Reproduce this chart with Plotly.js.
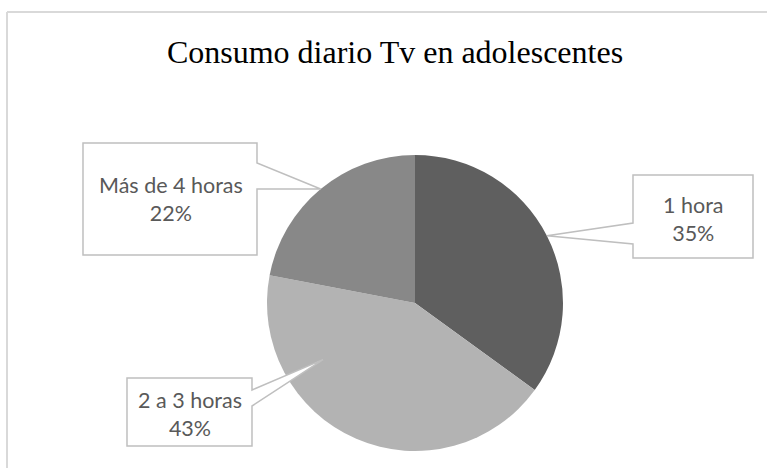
<!DOCTYPE html>
<html>
<head>
<meta charset="utf-8">
<script src="https://cdn.plot.ly/plotly-3.0.1.min.js"></script>
<style>html,body{margin:0;padding:0;background:#fff;}#chart{width:767px;height:468px;}</style>
</head>
<body>
<div id="chart"></div>
<script>
const categories = ["1 hora", "2 a 3 horas", "Más de 4 horas"];
const values = [35, 43, 22];
const colors = ["#5f5f5f", "#b3b3b3", "#888888"];
const titleText = "Consumo diario Tv en adolescentes";

const W = 767, H = 468;
const cx = 415, cy = 303, R = 148;
const px = x => x / W;
const py = y => 1 - y / H;

// callout layout (boxes in pixels), tip radius fraction and angle offset (deg)
const callouts = [
  {box: [633, 175, 753, 258], side: "left", wedge: [223, 244], f: 1.0, off: 0, text: [693, 219]},
  {box: [127, 378, 252, 446], side: "right", wedge: [390, 406], f: 0.73, off: 35, text: [189.5, 414]},
  {box: [83, 143, 257, 255], side: "right", wedge: [163, 189], f: 1.0, off: 0, text: [170.5, 199]}
];

const total = values.reduce((a, b) => a + b, 0);
let cum = 0;
const shapes = [];
const annotations = [];
values.forEach((v, i) => {
  const c = callouts[i];
  const th = 2 * Math.PI * (cum + v / 2) / total + c.off * Math.PI / 180;
  cum += v;
  const tx = cx + c.f * R * Math.sin(th);
  const ty = cy - c.f * R * Math.cos(th);
  const [x0, y0, x1, y1] = c.box;
  let pts;
  if (c.side === "left") {
    pts = [[x0, y0], [x1, y0], [x1, y1], [x0, y1], [x0, c.wedge[1]], [tx, ty], [x0, c.wedge[0]]];
  } else {
    pts = [[x0, y0], [x1, y0], [x1, c.wedge[0]], [tx, ty], [x1, c.wedge[1]], [x1, y1], [x0, y1]];
  }
  const path = "M" + pts.map(p => px(p[0]).toFixed(5) + "," + py(p[1]).toFixed(5)).join(" L") + " Z";
  shapes.push({type: "path", xref: "paper", yref: "paper", path: path,
    fillcolor: "#ffffff", line: {color: "#bfbfbf", width: 1.5}, layer: "above"});
  const pct = Math.round(100 * v / total);
  annotations.push({xref: "paper", yref: "paper", x: px(c.text[0]), y: py(c.text[1]),
    xanchor: "center", yanchor: "middle", showarrow: false, align: "center",
    text: categories[i] + "<br>" + pct + "%",
    font: {family: "Lato, 'Open Sans', sans-serif", size: 21.5, color: "#595959"}});
});

// chart frame
shapes.push({type: "line", xref: "paper", yref: "paper", x0: px(7), x1: px(767), y0: py(12), y1: py(12), line: {color: "#d9d9d9", width: 2}});
shapes.push({type: "line", xref: "paper", yref: "paper", x0: px(7), x1: px(7), y0: py(12), y1: py(468), line: {color: "#d9d9d9", width: 2}});

const data = [{
  type: "pie",
  labels: categories,
  values: values,
  sort: false,
  direction: "clockwise",
  rotation: 0,
  textinfo: "none",
  hoverinfo: "label+percent",
  marker: {colors: colors, line: {width: 0}},
  domain: {x: [px(cx - R), px(cx + R)], y: [py(cy + R), py(cy - R)]}
}];

const layout = {
  width: W, height: H,
  margin: {l: 0, r: 0, t: 0, b: 0},
  paper_bgcolor: "#ffffff",
  showlegend: false,
  title: {text: titleText, x: px(395), xanchor: "center", y: py(52), yanchor: "middle",
    font: {family: "'Liberation Serif', 'Times New Roman', serif", size: 32, color: "#000000"}},
  shapes: shapes,
  annotations: annotations
};

Plotly.newPlot("chart", data, layout, {displayModeBar: false, staticPlot: true});
</script>
</body>
</html>
